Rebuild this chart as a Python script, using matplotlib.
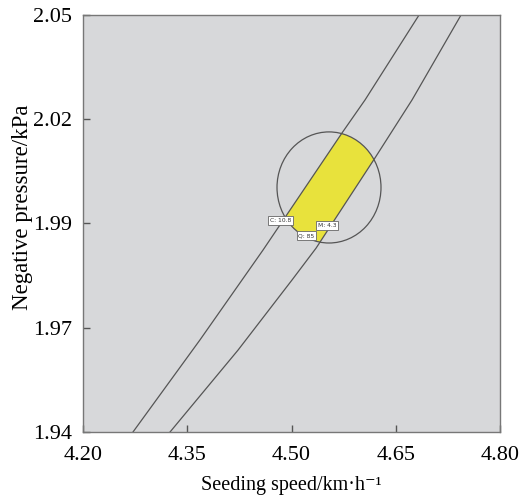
import numpy as np
import matplotlib
matplotlib.use("Agg")
import matplotlib.pyplot as plt
from matplotlib.patches import Ellipse, Polygon

# contour lines (seeding speed, negative pressure)
line1_x = [4.2719, 4.3683, 4.4590, 4.5727, 4.6058, 4.6835]
line1_y = [1.9400, 1.9643, 1.9880, 2.0189, 2.0276, 2.0500]
line2_x = [4.3252, 4.4230, 4.5007, 4.5353, 4.6201, 4.6734, 4.7439]
line2_y = [1.9400, 1.9616, 1.9801, 1.9885, 2.0123, 2.0276, 2.0500]

# third constraint: closed contour
circle_center = (4.5539, 2.0045)
circle_w = 0.1496
circle_h = 0.0293

# flag labels
flag_text = ["C: 10.8", "M: 4.3", "Q: 85"]
flag_x = [4.4842, 4.5511, 4.5216]
flag_y = [1.9958, 1.9945, 1.9918]

xticks = [4.20, 4.35, 4.50, 4.65, 4.80]
xtick_labels = ["4.20", "4.35", "4.50", "4.65", "4.80"]
yticks = [1.94, 1.9675, 1.995, 2.0225, 2.05]
ytick_labels = ["1.94", "1.97", "1.99", "2.02", "2.05"]

serif = ["Liberation Serif", "DejaVu Serif"]
line_col = "#555555"

fig = plt.figure(figsize=(5.22, 4.98), dpi=100)
ax = fig.add_axes([0.159, 0.1325, 0.799, 0.8375])
ax.set_facecolor("#d7d8da")

# yellow feasible region = band between lines, clipped by the ellipse
band = np.column_stack([line1_x + line2_x[::-1], line1_y + line2_y[::-1]])
region = Polygon(band, closed=True, facecolor="#e8e23c", edgecolor="none", zorder=1)
ax.add_patch(region)
clip = Ellipse(circle_center, circle_w, circle_h, transform=ax.transData)
region.set_clip_path(clip)

ax.plot(line1_x, line1_y, color=line_col, lw=0.9, zorder=2)
ax.plot(line2_x, line2_y, color=line_col, lw=0.9, zorder=2)
ax.add_patch(Ellipse(circle_center, circle_w, circle_h, facecolor="none",
                     edgecolor=line_col, lw=0.9, zorder=2))

for t, x, y in zip(flag_text, flag_x, flag_y):
    ax.text(x, y, t, fontsize=4.3, ha="center", va="center", color="#333333",
            family="DejaVu Sans", zorder=4,
            bbox=dict(boxstyle="square,pad=0.3", fc="white", ec="#666666", lw=0.6))

ax.set_xlim(4.20, 4.80)
ax.set_ylim(1.94, 2.05)
ax.set_xticks(xticks)
ax.set_xticklabels(xtick_labels, family=serif, fontsize=16)
ax.set_yticks(yticks)
ax.set_yticklabels(ytick_labels, family=serif, fontsize=16)
ax.tick_params(direction="in", length=5, width=1, color="#555555", pad=8)
ax.tick_params(axis="x", pad=10)
for s in ax.spines.values():
    s.set_color("#777777")
    s.set_linewidth(1.0)

ax.set_xlabel("Seeding speed/km·h⁻¹", family=serif, fontsize=14.5, labelpad=8)
ax.set_ylabel("Negative pressure/kPa", family=serif, fontsize=16.5)
ax.yaxis.set_label_coords(-0.12, 0.54)

fig.savefig("out.png", dpi=100)
